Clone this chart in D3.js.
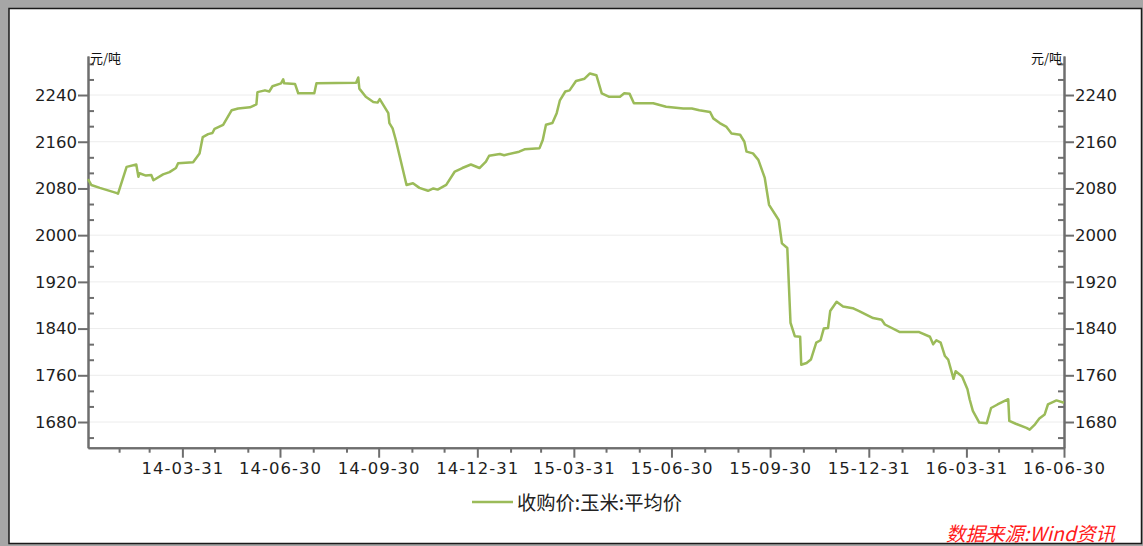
<!DOCTYPE html>
<html>
<head>
<meta charset="utf-8">
<script src="https://cdn.jsdelivr.net/npm/d3@7"></script>
<style>
  body { margin: 0; padding: 0; background: #fff; }
  svg { display: block; }
</style>
</head>
<body>
<div id="chart"></div>
<script>
// DATA
//=====================
var dates = ["2014-01-02","2014-01-05","2014-01-13","2014-01-29","2014-01-30","2014-02-07","2014-02-16","2014-02-18","2014-02-19","2014-02-25",
  "2014-03-02","2014-03-04","2014-03-13","2014-03-19","2014-03-25","2014-03-27","2014-04-10","2014-04-16","2014-04-19","2014-04-24",
  "2014-04-28","2014-04-30","2014-05-08","2014-05-16","2014-05-22","2014-06-02","2014-06-08","2014-06-09","2014-06-16","2014-06-20",
  "2014-06-23","2014-07-01","2014-07-03","2014-07-04","2014-07-14","2014-07-17","2014-08-01","2014-08-03","2014-09-09","2014-09-11",
  "2014-09-12","2014-09-18","2014-09-25","2014-09-29","2014-10-01","2014-10-09","2014-10-10","2014-10-13","2014-10-16","2014-10-26",
  "2014-11-01","2014-11-07","2014-11-15","2014-11-20","2014-11-24","2014-12-02","2014-12-10","2014-12-17","2014-12-25","2015-01-02",
  "2015-01-08","2015-01-11","2015-01-21","2015-01-25","2015-02-08","2015-02-13","2015-02-27","2015-03-02","2015-03-05","2015-03-11",
  "2015-03-15","2015-03-18","2015-03-23","2015-03-27","2015-04-02","2015-04-10","2015-04-15","2015-04-21","2015-04-26","2015-05-03",
  "2015-05-13","2015-05-17","2015-05-22","2015-05-26","2015-06-13","2015-06-25","2015-07-11","2015-07-19","2015-07-26","2015-08-05",
  "2015-08-08","2015-08-14","2015-08-20","2015-08-25","2015-09-02","2015-09-06","2015-09-08","2015-09-14","2015-09-19","2015-09-25",
  "2015-09-29","2015-10-08","2015-10-11","2015-10-16","2015-10-19","2015-10-23","2015-10-28","2015-10-29","2015-11-03","2015-11-07",
  "2015-11-12","2015-11-16","2015-11-19","2015-11-23","2015-11-25","2015-12-01","2015-12-07","2015-12-16","2015-12-22","2016-01-04",
  "2016-01-12","2016-01-15","2016-01-29","2016-02-16","2016-02-26","2016-02-29","2016-03-03","2016-03-07","2016-03-11","2016-03-14",
  "2016-03-19","2016-03-21","2016-03-27","2016-04-01","2016-04-03","2016-04-06","2016-04-12","2016-04-19","2016-04-23","2016-04-29",
  "2016-05-09","2016-05-10","2016-05-16","2016-05-26","2016-05-29","2016-06-03","2016-06-07","2016-06-12","2016-06-15","2016-06-23",
  "2016-06-30"];

var prices = [2096,2086,2081,2072,2071,2117,2121,2100,2106,2102,
  2103,2094,2104,2108,2115,2123,2125,2140,2168,2173,
  2175,2182,2189,2214,2217,2219,2224,2245,2248,2246,
  2255,2260,2267,2260,2259,2243,2243,2260,2261,2270,
  2251,2237,2228,2227,2233,2209,2192,2183,2163,2086,
  2089,2081,2076,2080,2078,2086,2109,2115,2121,2115,
  2126,2136,2139,2137,2143,2147,2149,2163,2189,2192,
  2209,2231,2246,2248,2264,2268,2277,2274,2243,2237,
  2237,2243,2242,2226,2226,2220,2217,2217,2214,2211,
  2200,2192,2186,2174,2172,2160,2143,2140,2129,2098,
  2052,2026,1986,1978,1850,1827,1826,1778,1781,1787,
  1816,1820,1840,1841,1870,1886,1878,1875,1870,1858,
  1855,1847,1834,1834,1826,1813,1820,1816,1793,1787,
  1754,1767,1758,1736,1719,1699,1679,1678,1704,1710,
  1719,1682,1677,1670,1667,1676,1686,1693,1710,1717,
  1713];

var xTickDates = ["2014-03-31","2014-06-30","2014-09-30","2014-12-31","2015-03-31","2015-06-30","2015-09-30","2015-12-31","2016-03-31","2016-06-30"];
var yTicks = [1680, 1760, 1840, 1920, 2000, 2080, 2160, 2240];
var xDomain = ["2014-01-02", "2016-06-30"];
var yDomain = [1636, 2306.67];

var seriesName = "收购价:玉米:平均价";
var unitLabel = "元/吨";
var sourceLabel = "数据来源:Wind资讯";

var svgWidth = 1143;
var svgHeight = 546;

var margin = { top: 56.1, right: 79, bottom: 98.3, left: 88 };
var width = svgWidth - margin.left - margin.right;
var height = svgHeight - margin.top - margin.bottom;

var lineColor = "#9bbb59";
var axisColor = "#6e6e6e";
var labelFont = "'DejaVu Sans', Verdana, sans-serif";
var cjkFont = "'Noto Sans CJK SC', sans-serif";

var parseDate = d3.timeParse("%Y-%m-%d");
var fmt = d3.timeFormat("%y-%m-%d");
var fmtFull = d3.timeFormat("%Y-%m-%d");

var data = dates.map(function(d, i) {
  return { date: parseDate(d), value: prices[i] };
});

/// APPEND SVG ELEMENTS
//=====================
var svg = d3.select("#chart")
  .append("svg")
  .attr("width", svgWidth)
  .attr("height", svgHeight);

// frame
svg.append("rect")
  .attr("width", svgWidth).attr("height", svgHeight)
  .attr("fill", "#a6a6a6");
svg.append("rect")
  .attr("x", 9).attr("y", 8.5)
  .attr("width", 1132.5).attr("height", 535)
  .attr("fill", "#fff")
  .attr("stroke", "#1a1a1a")
  .attr("stroke-width", 1.5);

var chartGroup = svg.append("g")
  .attr("transform", `translate(${margin.left}, ${margin.top})`);

/// SCALES
//=====================
var xScale = d3.scaleTime()
  .domain(xDomain.map(parseDate))
  .range([0, width]);

var yScale = d3.scaleLinear()
  .domain(yDomain)
  .range([height, 0]);

// minor ticks: month ends between the quarter ticks, and thirds of 80 on y
var monthEnds = d3.timeMonth.range(parseDate("2014-02-01"), parseDate("2016-07-02"))
  .map(function(d) { return d3.timeDay.offset(d, -1); })
  .filter(function(d) { return xTickDates.indexOf(fmtFull(d)) < 0; });

var yMinor = d3.range(yTicks[0] - 80 / 3, yDomain[1], 80 / 3)
  .filter(function(v) { return v >= yDomain[0] && yTicks.indexOf(Math.round(v)) < 0; });

/// GRID
//=====================
chartGroup.append("g")
  .selectAll("line")
  .data(yTicks)
  .enter()
  .append("line")
  .attr("x1", 0).attr("x2", width)
  .attr("y1", d => yScale(d)).attr("y2", d => yScale(d))
  .attr("stroke", "#ececec")
  .attr("stroke-width", 1);

/// AXES
//=====================
var xAxis = d3.axisBottom(xScale)
  .tickValues(xTickDates.map(parseDate))
  .tickFormat(fmt)
  .tickSize(10)
  .tickSizeOuter(0)
  .tickPadding(5);

var xMinorAxis = d3.axisBottom(xScale)
  .tickValues(monthEnds)
  .tickFormat("")
  .tickSize(5)
  .tickSizeOuter(0);

var yFmt = d3.format("d");
var yLeft = d3.axisLeft(yScale).tickValues(yTicks).tickFormat(yFmt).tickSize(10).tickSizeOuter(0).tickPadding(1);
var yLeftMinor = d3.axisLeft(yScale).tickValues(yMinor).tickFormat("").tickSize(-6).tickSizeOuter(0);
var yRight = d3.axisRight(yScale).tickValues(yTicks).tickFormat(yFmt).tickSize(10).tickSizeOuter(0).tickPadding(1);
var yRightMinor = d3.axisRight(yScale).tickValues(yMinor).tickFormat("").tickSize(-6).tickSizeOuter(0);

chartGroup.append("g").attr("class", "axis").call(yLeftMinor);
chartGroup.append("g").attr("class", "axis y").call(yLeft);
chartGroup.append("g").attr("class", "axis")
  .attr("transform", `translate(${width}, 0)`).call(yRightMinor);
chartGroup.append("g").attr("class", "axis y")
  .attr("transform", `translate(${width}, 0)`).call(yRight);
chartGroup.append("g").attr("class", "axis")
  .attr("transform", `translate(0, ${height})`).call(xMinorAxis);
chartGroup.append("g").attr("class", "axis x")
  .attr("transform", `translate(0, ${height})`).call(xAxis);

chartGroup.selectAll(".axis path, .axis line")
  .attr("stroke", axisColor)
  .attr("stroke-width", 2);
chartGroup.selectAll(".axis text")
  .attr("fill", "#1e1e1e")
  .style("font-family", labelFont)
  .style("font-size", "16.5px");
chartGroup.selectAll(".axis.x text")
  .style("letter-spacing", "1px");

/// LINE
//=====================
var line = d3.line()
  .x(d => xScale(d.date))
  .y(d => yScale(d.value));

chartGroup.append("path")
  .datum(data)
  .attr("d", line)
  .attr("fill", "none")
  .attr("stroke", lineColor)
  .attr("stroke-width", 2.5)
  .attr("stroke-linejoin", "round");

/// LABELS
//=====================
chartGroup.append("text")
  .attr("x", 2).attr("y", 1)
  .attr("font-family", cjkFont)
  .attr("font-size", "13px")
  .attr("fill", "#111")
  .attr("dominant-baseline", "central")
  .text(unitLabel);

chartGroup.append("text")
  .attr("x", width - 2).attr("y", 1)
  .attr("text-anchor", "end")
  .attr("font-family", cjkFont)
  .attr("font-size", "13px")
  .attr("fill", "#111")
  .attr("dominant-baseline", "central")
  .text(unitLabel);

// legend
var legend = svg.append("g")
  .attr("transform", "translate(472, 502)");
legend.append("line")
  .attr("x1", 0).attr("x2", 41)
  .attr("stroke", lineColor)
  .attr("stroke-width", 2.5);
legend.append("text")
  .attr("x", 45).attr("y", 0)
  .attr("dominant-baseline", "central")
  .attr("font-family", cjkFont)
  .attr("font-size", "19.3px")
  .attr("fill", "#222")
  .text(seriesName);

// source
svg.append("text")
  .attr("x", 1115).attr("y", 532)
  .attr("text-anchor", "end")
  .attr("dominant-baseline", "central")
  .attr("font-family", cjkFont)
  .attr("font-size", "19.5px")
  .attr("font-style", "italic")
  .attr("fill", "#ff1a1a")
  .text(sourceLabel);
</script>
</body>
</html>
